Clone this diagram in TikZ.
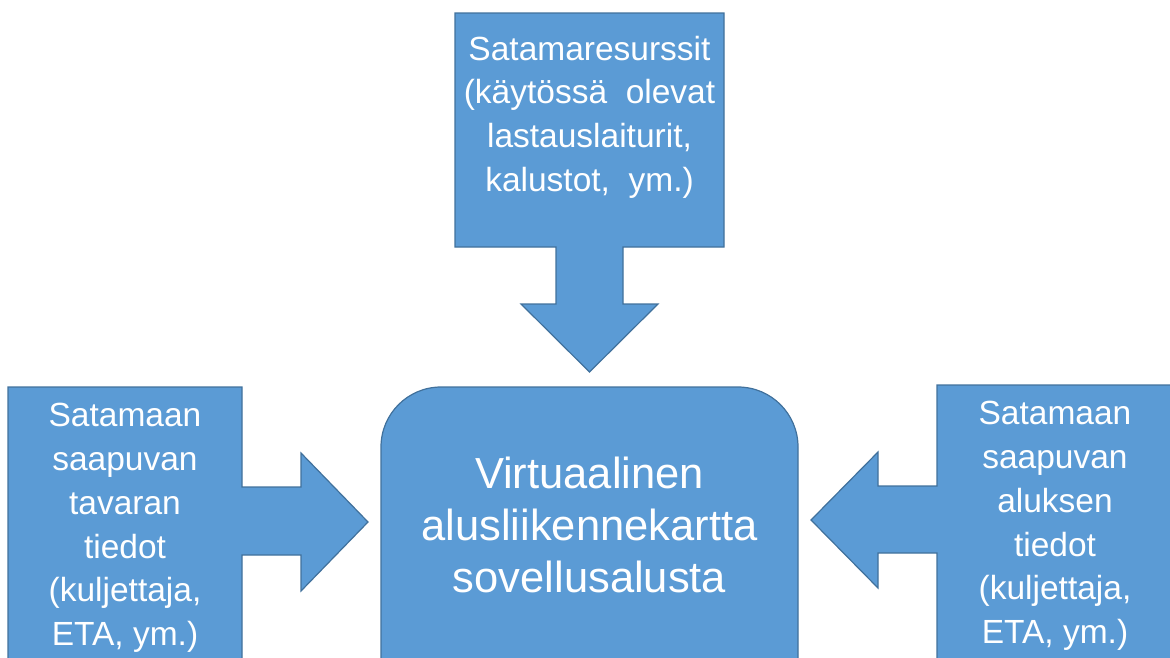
\documentclass[tikz,border=0pt]{standalone}
\usepackage{fontspec}
\setmainfont{Liberation Sans}
\definecolor{boxfill}{HTML}{5B9BD5}
\definecolor{boxline}{HTML}{41719C}
\begin{document}
\begin{tikzpicture}[x=1pt,y=-1pt,
  shapebox/.style={fill=boxfill,draw=boxline,line width=1.2pt,line join=miter},
  smalltext/.style={text=white,align=center,font=\fontsize{33.5}{43.7}\selectfont,inner sep=0pt},
  bigtext/.style={text=white,align=center,font=\fontsize{43.5}{52}\selectfont,inner sep=0pt}]
\useasboundingbox (0,0) rectangle (1170,657);
\clip (0,0) rectangle (1170,657);
% top callout
\draw[shapebox] (455,13) -- (724,13) -- (724,247) -- (623,247) -- (623,304) -- (658,304)
  -- (589.5,372) -- (521,304) -- (556,304) -- (556,247) -- (455,247) -- cycle;
% left callout
\draw[shapebox] (8,387) -- (242,387) -- (242,487) -- (301,487) -- (301,453) -- (368,522)
  -- (301,591) -- (301,555) -- (242,555) -- (242,700) -- (8,700) -- cycle;
% right callout
\draw[shapebox] (1200,385) -- (937,385) -- (937,486) -- (878,486) -- (878,452) -- (811,520)
  -- (878,588) -- (878,553) -- (937,553) -- (937,700) -- (1200,700) -- cycle;
% center rounded box
\draw[shapebox,rounded corners=60pt] (381,387) rectangle (798,720);
\node[smalltext] (top) at (589.5,117) {Satamaresurssit\\(käytössä\ \ olevat\\lastauslaiturit,\\kalustot,\ \ ym.)};
\node[smalltext] (left) at (125,528) {Satamaan\\saapuvan\\tavaran\\tiedot\\(kuljettaja,\\ETA, ym.)};
\node[smalltext] (right) at (1055,526) {Satamaan\\saapuvan\\aluksen\\tiedot\\(kuljettaja,\\ETA, ym.)};
\node[bigtext] (center) at (589.5,525) {Virtuaalinen\\alusliikennekartta\\sovellusalusta};
\end{tikzpicture}
\end{document}
